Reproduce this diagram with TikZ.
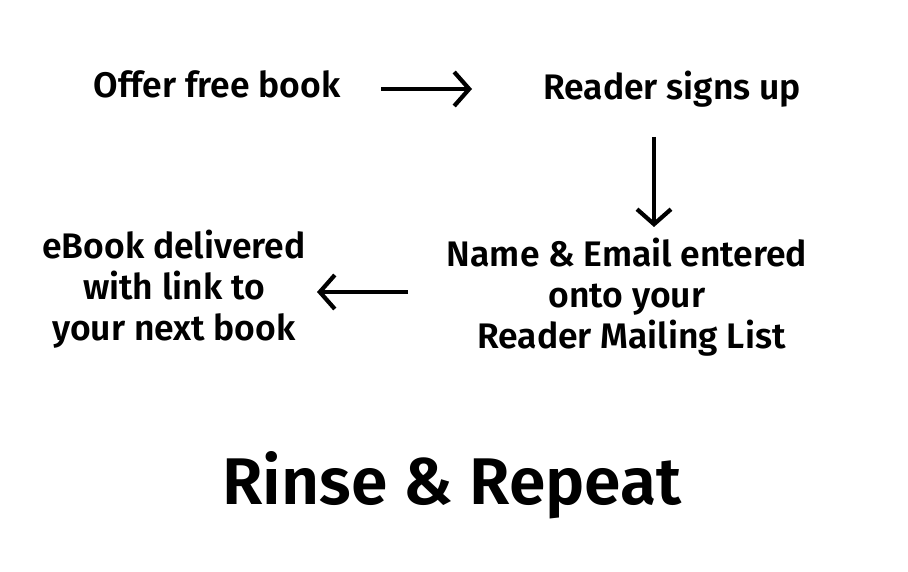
\documentclass[tikz,border=0pt]{standalone}
\usepackage{fontspec}
\setmainfont{Fira Sans}[BoldFont={Fira Sans SemiBold}]
\usetikzlibrary{arrows.meta}
\tikzset{
  lbl/.style={font=\bfseries\fontsize{35.5}{41}\selectfont, align=center, inner sep=0pt},
  big/.style={font=\bfseries\fontsize{66}{70}\selectfont, inner sep=0pt},
  arr/.style={line width=4.2pt, -{Straight Barb[length=15pt,width=34pt,line width=4.2pt]}}
}
\begin{document}
\begin{tikzpicture}[x=1pt,y=-1pt]
\useasboundingbox (0,0) rectangle (908,572);
\node[lbl] (offer) at (217,84) {Offer free book};
\node[lbl] (reader) at (672,89) {Reader signs up};
\node[lbl] (name) at (627,297) {Name \& Email entered\\onto your\\\ Reader Mailing List};
\node[lbl] (ebook) at (174,289) {eBook delivered\\with link to\\your next book};
\node[big] (rinse) at (452,485) {Rinse \& Repeat};
\coordinate (a1s) at (381,89);
\coordinate (a1e) at (472,89);
\coordinate (a2s) at (654,137);
\coordinate (a2e) at (654,227);
\coordinate (a3s) at (408,292);
\coordinate (a3e) at (317,292);
\draw[arr] (a1s) -- (a1e);
\draw[arr] (a2s) -- (a2e);
\draw[arr] (a3s) -- (a3e);
\end{tikzpicture}
\end{document}
